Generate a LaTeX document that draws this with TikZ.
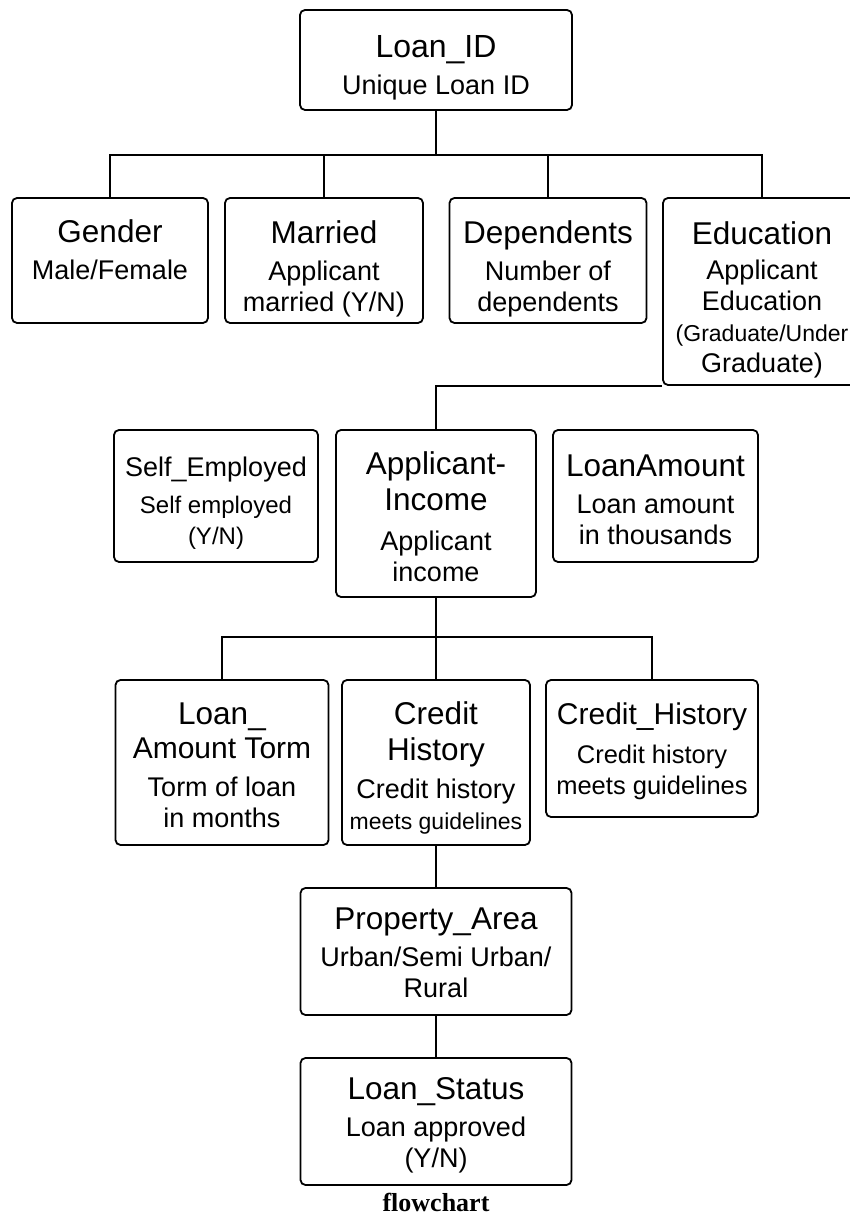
\documentclass[tikz,border=0pt]{standalone}
\usepackage{fontspec}
\setmainfont{Liberation Sans}
\newfontfamily\capfamily{Liberation Serif}
\usepackage{tikz}

\newcommand\headtxt{\fontsize{31.5}{36}\selectfont}
\newcommand\subtxt{\fontsize{27}{31}\selectfont}
\newcommand\toppad[1]{\rule{0pt}{#1pt}}

\begin{document}
\begin{tikzpicture}[x=1pt, y=1pt,
    box/.style={draw, line width=1.8pt, rounded corners=5pt, align=center, inner sep=3pt, font=\subtxt},
    link/.style={line width=1.8pt}]
        \useasboundingbox (0,0) rectangle (850,1218);
        \clip (0,0) rectangle (850,1218);

        % top
        \node [box, minimum width=272, minimum height=100] (id)     at (436,1158)  {{\fontsize{32}{36}\selectfont\toppad{38}Loan\_ID}\\[6pt]Unique Loan ID};

        % first row
        \node [box, minimum width=196, minimum height=125] (gender) at (110,957.5) {{\headtxt\toppad{39}Gender}\\[6pt]Male/Female\rule[-37pt]{0pt}{0pt}};
        \node [box, minimum width=198, minimum height=125] (married) at (324,957.5) {{\headtxt\toppad{39}Married}\\[6pt]Applicant\\married (Y/N)};
        \node [box, minimum width=197, minimum height=125] (deps)   at (548,957.5) {{\headtxt\toppad{39}Dependents}\\[6pt]Number of\\dependents};
        \node [box, minimum width=198, minimum height=187] (edu)    at (762,926.5) {{\headtxt\toppad{39}Education}\\[4pt]Applicant\\Education\\{\fontsize{23}{29}\selectfont (Graduate/Under}\\Graduate)};

        % second row
        \node [box, minimum width=204, minimum height=132] (selfemp) at (216,722)  {{\fontsize{27}{32}\selectfont\toppad{33}Self\_Employed}\\[6pt]{\fontsize{24}{29}\selectfont Self employed}\\{\fontsize{24}{29}\selectfont (Y/N)}};
        \node [box, minimum width=200, minimum height=167] (inc)    at (436,704.5) {{\headtxt\toppad{29}Applicant-}\\[5pt]{\headtxt Income}\\[9pt]Applicant\\income};
        \node [box, minimum width=205, minimum height=132] (loanamt) at (655.5,722) {{\headtxt\toppad{29}LoanAmount}\\[6pt]Loan amount\\in thousands};

        % third row
        \node [box, minimum width=213, minimum height=165] (term)   at (222,455.5) {{\headtxt\toppad{27}Loan\_}\\[3pt]{\fontsize{30}{36}\selectfont Amount Torm}\\[7pt]Torm of loan\\in months};
        \node [box, minimum width=188, minimum height=165] (credit) at (436,455.5) {{\headtxt\toppad{33}Credit}\\[5pt]{\headtxt History}\\[7pt]Credit history\\{\fontsize{23}{28}\selectfont meets guidelines}};
        \node [box, minimum width=212, minimum height=137] (credit2) at (652,469.5) {{\fontsize{30}{36}\selectfont\toppad{27}Credit\_History}\\[8pt]{\fontsize{25.5}{31}\selectfont Credit history}\\{\fontsize{25.5}{31}\selectfont meets guidelines}};

        % bottom
        \node [box, minimum width=271, minimum height=127] (prop)   at (436,266.5) {{\headtxt\toppad{25}Property\_Area}\\[6pt]Urban/Semi Urban/\\Rural};
        \node [box, minimum width=271, minimum height=127] (status) at (436,96.5)  {{\headtxt\toppad{29}Loan\_Status}\\[6pt]Loan approved\\(Y/N)};

        \node [font=\capfamily\bfseries\fontsize{26}{30}\selectfont] (cap) at (436,16) {flowchart};

        \coordinate (topbus) at (436,1063);
        \coordinate (midbus) at (436,581);

        \draw [link] (id.south) -- (topbus);
        \draw [link] (gender.north) |- (topbus) -| (edu.north);
        \draw [link] (married.north) -- (married.north |- topbus);
        \draw [link] (deps.north) -- (deps.north |- topbus);
        \draw [link] (edu.south west) -| (inc.north);
        \draw [link] (inc.south) -- (midbus);
        \draw [link] (term.north) |- (midbus) -| (credit2.north);
        \draw [link] (credit.north) -- (midbus);
        \draw [link] (credit.south) -- (prop.north);
        \draw [link] (prop.south) -- (status.north);
      \end{tikzpicture}
\end{document}
